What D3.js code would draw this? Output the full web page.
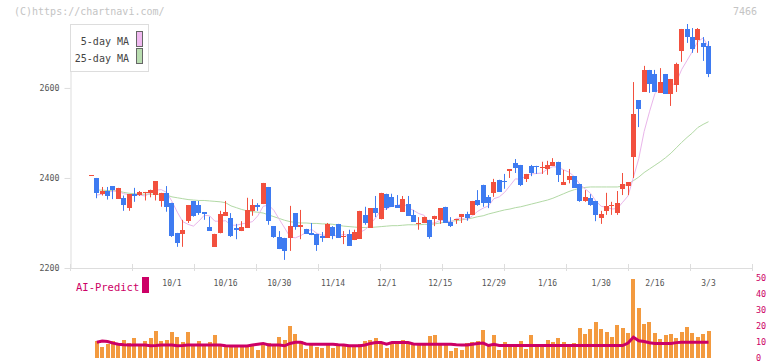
<!DOCTYPE html>
<html>
<head>
<meta charset="utf-8">
<script src="https://cdn.jsdelivr.net/npm/d3@7"></script>
<style>
body{margin:0;background:#fff;}
text{font-family:"DejaVu Sans Mono",monospace;}
</style>
</head>
<body>
<div id="chart"></div>
<script>
// daily candles, index 0 .. 115 (10/1 = 15, 3/3 = 115)
var opens = [2406,2400,2364,2371,2382,2354,2356,2334,2364,2362,
  2368,2367,2363,2349,2367,2344,2278,2276,2304,2349,
  2340,2324,2290,2247,2278,2316,2311,2288,2282,2289,
  2327,2340,2342,2380,2293,2269,2267,2267,2322,2291,
  2287,2278,2276,2271,2267,2291,2298,2268,2276,2262,
  2265,2318,2289,2333,2308,2365,2358,2340,2325,2342,
  2318,2297,2301,2307,2308,2307,2336,2302,2307,2313,
  2320,2318,2351,2385,2358,2367,2396,2393,2416,2433,
  2429,2398,2427,2427,2424,2420,2427,2436,2385,2396,
  2404,2387,2349,2356,2349,2311,2327,2337,2322,2376,
  2382,2447,2573,2591,2640,2631,2589,2631,2587,2607,
  2682,2731,2713,2707,2700,2693];
var highs = [2406,2400,2380,2380,2382,2378,2361,2364,2378,2371,
  2369,2374,2393,2367,2382,2345,2278,2307,2340,2349,
  2349,2324,2314,2276,2327,2349,2322,2298,2304,2356,
  2353,2344,2389,2380,2293,2282,2267,2338,2322,2329,
  2287,2300,2276,2280,2300,2293,2298,2282,2285,2285,
  2327,2336,2333,2360,2367,2365,2365,2362,2360,2360,
  2329,2313,2314,2307,2316,2333,2336,2313,2309,2320,
  2325,2349,2373,2385,2362,2398,2396,2409,2419,2442,
  2429,2409,2429,2427,2436,2438,2444,2436,2418,2420,
  2404,2387,2373,2364,2349,2327,2367,2347,2371,2411,
  2391,2613,2573,2649,2640,2640,2644,2631,2620,2656,
  2731,2742,2733,2733,2713,2704];
var lows = [2406,2355,2361,2352,2353,2354,2327,2327,2347,2360,
  2350,2357,2350,2336,2325,2269,2247,2247,2300,2314,
  2318,2307,2283,2247,2277,2316,2269,2264,2282,2289,
  2316,2327,2342,2296,2267,2242,2218,2238,2285,2264,
  2276,2273,2238,2258,2267,2264,2267,2253,2249,2262,
  2265,2296,2289,2313,2308,2329,2336,2334,2325,2316,
  2303,2285,2301,2265,2293,2298,2301,2291,2298,2300,
  2305,2318,2338,2336,2333,2358,2369,2376,2400,2411,
  2382,2391,2404,2409,2409,2407,2427,2391,2385,2388,
  2378,2347,2347,2338,2304,2298,2318,2318,2318,2362,
  2362,2400,2513,2591,2589,2591,2589,2587,2560,2591,
  2658,2700,2678,2678,2660,2624];
var closes = [2406,2367,2372,2361,2373,2378,2340,2364,2360,2368,
  2369,2374,2393,2367,2336,2270,2256,2285,2340,2316,
  2323,2320,2283,2276,2320,2325,2270,2286,2291,2329,
  2340,2336,2389,2305,2269,2242,2238,2293,2291,2296,
  2276,2273,2251,2267,2298,2271,2267,2271,2249,2280,
  2327,2300,2333,2322,2367,2333,2336,2334,2353,2316,
  2303,2300,2314,2268,2316,2333,2301,2293,2309,2320,
  2311,2349,2340,2345,2345,2391,2369,2390,2419,2422,
  2385,2409,2411,2424,2425,2429,2436,2407,2391,2404,
  2378,2349,2358,2340,2318,2320,2338,2340,2344,2387,
  2391,2542,2553,2640,2609,2591,2613,2587,2620,2653,
  2731,2713,2687,2731,2691,2631];
var ma5 = [null,2362,2364,2368,2371,2370,2365,2363,2363,2362,
  2360,2367,2373,2374,2368,2348,2324,2303,2297,2293,
  2304,2317,2316,2304,2304,2305,2295,2295,2298,2300,
  2303,2316,2337,2340,2328,2308,2289,2269,2267,2272,
  2279,2286,2277,2273,2273,2272,2271,2275,2271,2268,
  2279,2285,2298,2312,2330,2331,2338,2338,2345,2334,
  2328,2321,2317,2300,2300,2306,2306,2302,2310,2311,
  2307,2316,2326,2333,2338,2354,2358,2368,2383,2398,
  2397,2405,2409,2410,2411,2420,2425,2424,2418,2413,
  2403,2386,2376,2366,2349,2337,2335,2331,2332,2346,
  2360,2401,2443,2503,2547,2587,2601,2608,2604,2613,
  2641,2661,2681,2703,2711,2691];
var ma25 = [null,2373,2373,2372,2372,2371,2368,2366,2365,2364,
  2364,2364,2364,2363,2362,2358,2356,2354,2352,2351,
  2350,2350,2349,2348,2347,2345,2338,2334,2330,2327,
  2325,2324,2322,2318,2314,2310,2306,2303,2301,2300,
  2300,2299,2299,2298,2298,2297,2295,2293,2292,2291,
  2290,2290,2290,2291,2292,2293,2294,2294,2295,2296,
  2296,2296,2297,2297,2298,2300,2302,2304,2305,2307,
  2309,2311,2314,2316,2320,2323,2326,2329,2331,2334,
  2336,2339,2342,2345,2348,2351,2355,2360,2365,2370,
  2374,2377,2379,2380,2380,2380,2380,2380,2380,2382,
  2386,2394,2402,2412,2420,2428,2436,2445,2455,2467,
  2479,2490,2500,2512,2519,2525];
var volumes = [null,10.3,6.8,8.3,10.3,7.8,11,9.1,12.2,8.3,
  10.3,12.2,16.6,10.3,11,16,12.8,9.7,16,7.8,
  10.3,7.8,9.7,14.1,7.8,7.8,7.8,7.8,7.8,7.8,
  8.5,4.7,7.8,9.1,7.8,12.8,11,19.7,14.7,10.3,
  5.3,8.5,6.6,6,8.5,6,7.8,7.8,6.6,7.8,
  8.5,10.3,11,12.2,8.5,6.2,8.5,9.7,11,9.1,
  7.8,7.8,7.8,13.6,14.1,9.1,7.8,4.1,6.2,4.7,
  9.1,9.7,10.3,17.2,7.8,14.1,4.7,9.7,6.6,6.6,
  10.3,5.5,14.1,8.5,8.5,11,9.7,12.2,9.7,6.6,
  9.1,18.5,14.7,17.8,22.2,17.8,16,12.8,20.3,18.5,
  15.3,49.1,30.9,20.9,22.2,15.3,11.6,14.1,14.7,12.2,
  16,19.1,15.3,12.8,14.7,16.6];
var aiPredict = [null,9.5,10.3,10,9,8.3,8,7.8,7.8,7.8,
  7.8,7.3,7.5,7.8,7.8,7.8,7.3,7.5,7.8,7.8,
  7.8,7.8,7.8,7.8,7.8,7.3,7.2,7.2,7.2,7.2,
  7.8,8.3,8.8,7.8,7.8,7.8,7.3,8.8,9.5,9.5,
  8.5,8.3,8.3,8.3,8.3,8.3,8,7.8,7.3,7.3,
  7.3,7.8,8.8,9.3,9.3,8.3,9.3,9.3,9.3,9.3,
  8.5,8.3,8.3,8.3,8.3,8.3,8.3,8.3,8,7.8,
  7.8,8.3,8.8,9,7.5,8.3,7.5,7.5,7.5,7.5,
  7.5,7.5,7.5,7.5,7.5,7.5,7.5,7.5,7.5,7.5,
  7.5,7.5,7.5,7.5,7.5,7.5,7.5,7.5,7.5,7.5,
  9,12.7,10.5,10,9.2,8.8,8.8,8.8,8.8,9.3,
  9.5,9.5,9.5,9.5,9.5,9.5];

var tickLabels = ["10/1","10/16","10/30","11/14","12/1","12/15","12/29","1/16","1/30","2/16","3/3"];
var tickIndex = [15,25,35,45,55,65,75,85,95,105,115];
var priceTicks = [2200,2400,2600];
var volumeTicks = [0,10,20,30,40,50];

var W = 772, H = 361;
var upColor = "#f2503e", downColor = "#3e7bf1";

var svg = d3.select("#chart").append("svg")
    .attr("width",W).attr("height",H);

var x = d3.scaleLinear().domain([0,115]).range([91.5,708.5]);
var y = d3.scaleLinear().domain([2200,2742]).range([268,24]);
var yv = d3.scaleLinear().domain([0,50]).range([357.5,277.5]);
var grid = d3.scaleLinear().domain([0,11]).range([70.5,752.5]);

// header texts
svg.append("text").attr("x",14).attr("y",15)
    .attr("font-size","10px").attr("fill","#c4c4c4")
    .text("(C)https://chartnavi.com/");
svg.append("text").attr("x",757).attr("y",15)
    .attr("text-anchor","end").attr("font-size","10px").attr("fill","#c4c4c4")
    .text("7466");

// price axis
var yAxis = svg.append("g").attr("transform","translate(70.5,0)")
    .call(d3.axisLeft(y).tickValues(priceTicks).tickFormat(d3.format("d"))
      .tickSizeInner(6).tickSizeOuter(0).tickPadding(5));
yAxis.select(".domain").attr("stroke","#ddd");
yAxis.selectAll(".tick line").attr("stroke","#ddd");
yAxis.selectAll(".tick text").attr("fill","#555")
    .style("font-family","'DejaVu Sans Mono',monospace").style("font-size","8.3px");

// time axis line and ticks
svg.append("line").attr("x1",70).attr("x2",753).attr("y1",268.5).attr("y2",268.5)
    .attr("stroke","#ddd");
svg.append("g").selectAll("line").data(grid.ticks(11)).enter().append("line")
    .attr("x1",function(d){return grid(d);}).attr("x2",function(d){return grid(d);})
    .attr("y1",264).attr("y2",271).attr("stroke","#ddd");

svg.append("g").selectAll("text").data(tickIndex).enter().append("text")
    .attr("x",function(d){return x(d);}).attr("y",285.5)
    .attr("text-anchor","middle").attr("font-size","8px").attr("fill","#555")
    .text(function(d,i){return tickLabels[i];});

// moving averages (under candles)
function maLine(arr){
  return d3.line()
      .defined(function(d){return arr[d]!=null;})
      .x(function(d){return x(d);})
      .y(function(d){return y(arr[d]);});
}
var idx = d3.range(opens.length);
svg.append("path").attr("d",maLine(ma25)(idx))
    .attr("fill","none").attr("stroke","#b2d9a5").attr("stroke-width",1);
svg.append("path").attr("d",maLine(ma5)(idx))
    .attr("fill","none").attr("stroke","#e9b5ea").attr("stroke-width",1);

// candles
var candle = svg.append("g").selectAll("g").data(idx).enter().append("g");
candle.append("line")
    .attr("x1",function(d){return Math.round(x(d)-2.5)+2.5;})
    .attr("x2",function(d){return Math.round(x(d)-2.5)+2.5;})
    .attr("y1",function(d){return y(highs[d]);})
    .attr("y2",function(d){return y(lows[d]);})
    .attr("stroke",function(d){return closes[d]>=opens[d]?upColor:downColor;})
    .attr("stroke-width",1);
candle.append("rect")
    .attr("x",function(d){return Math.round(x(d)-2.5);})
    .attr("width",5)
    .attr("y",function(d){return y(Math.max(opens[d],closes[d]));})
    .attr("height",function(d){return Math.max(1.2,Math.abs(y(opens[d])-y(closes[d])));})
    .attr("fill",function(d){return closes[d]>=opens[d]?upColor:downColor;})
    .attr("shape-rendering","crispEdges");

// legend
svg.append("rect").attr("x",70.5).attr("y",24.5).attr("width",78).attr("height",47)
    .attr("fill","#fff").attr("stroke","#ddd");
var legendItems = [["5-day MA","#f0b9f0",44.5],["25-day MA","#b9ddb0",61.5]];
legendItems.forEach(function(l){
  svg.append("text").attr("x",129).attr("y",l[2]).attr("text-anchor","end")
      .attr("font-size","10px").attr("fill","#444").text(l[0]);
  svg.append("rect").attr("x",136.5).attr("y",l[2]-13).attr("width",6).attr("height",15)
      .attr("fill",l[1]).attr("stroke","#666");
});

// volume panel
svg.append("g").selectAll("rect").data(idx.filter(function(d){return volumes[d]!=null;}))
    .enter().append("rect")
    .attr("x",function(d){return Math.round(x(d)-2);})
    .attr("width",4)
    .attr("y",function(d){return yv(volumes[d]);})
    .attr("height",function(d){return yv(0)-yv(volumes[d]);})
    .attr("fill","#f39a3f")
    .attr("shape-rendering","crispEdges");

svg.append("path")
    .attr("d",d3.line()
      .defined(function(d){return aiPredict[d]!=null;})
      .x(function(d){return x(d);})
      .y(function(d){return yv(aiPredict[d]);})(idx))
    .attr("fill","none").attr("stroke","#cc0066").attr("stroke-width",3);

svg.append("g").selectAll("text").data(volumeTicks).enter().append("text")
    .attr("x",756).attr("y",function(d){return yv(d)+3;})
    .attr("font-size","8.5px").attr("fill","#cc0066")
    .text(function(d){return d;});

svg.append("text").attr("x",76).attr("y",290.5)
    .attr("font-size","10.5px").attr("fill","#cc0066").text("AI-Predict");
svg.append("rect").attr("x",142).attr("y",277).attr("width",7).attr("height",16)
    .attr("fill","#cc0066");
</script>
</body>
</html>
